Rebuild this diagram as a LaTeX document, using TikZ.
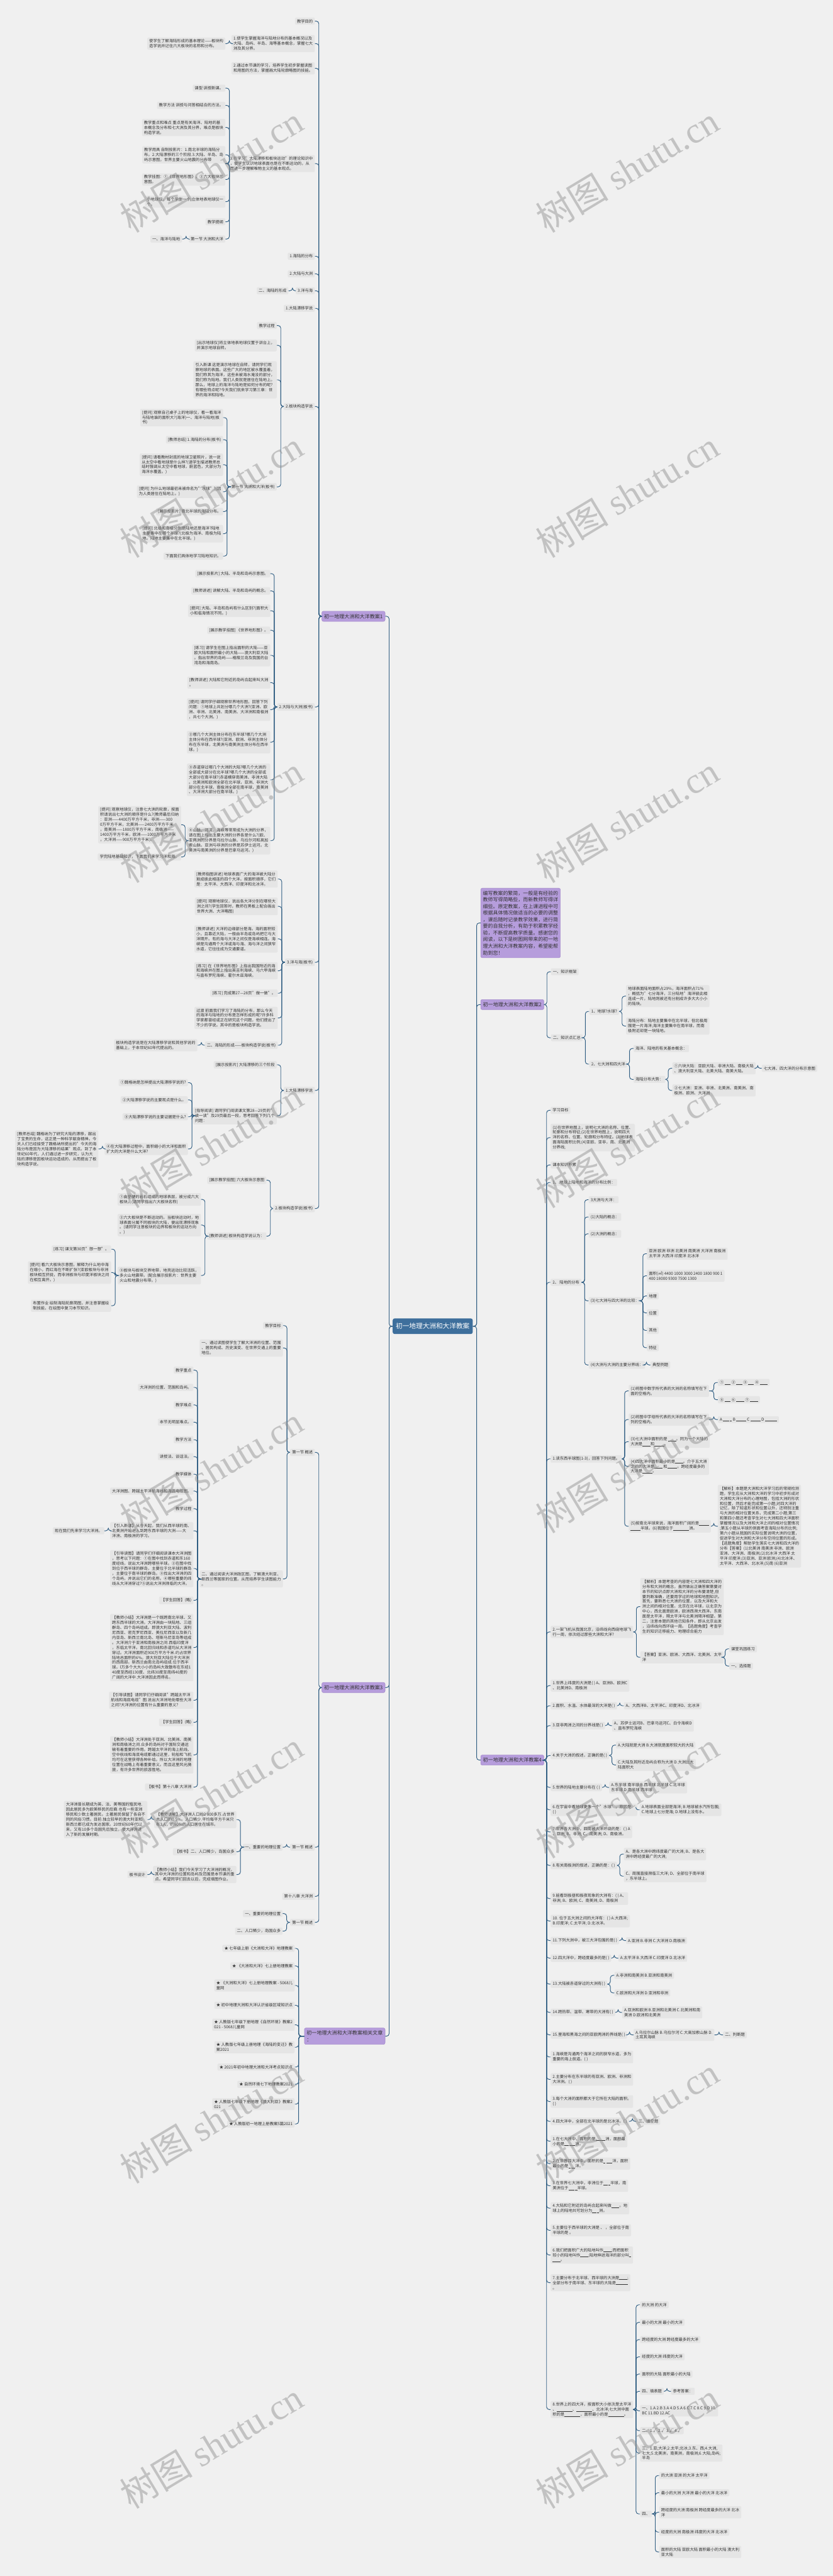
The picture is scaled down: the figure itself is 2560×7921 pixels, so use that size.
\documentclass[tikz,border=0pt]{standalone}
\usepackage{fontspec}
\setmainfont{Noto Sans CJK SC}
\newfontfamily\wmserif{Liberation Serif}
\definecolor{bg}{HTML}{F0F0F0}
\definecolor{boxc}{HTML}{E5E5E5}
\definecolor{txtc}{HTML}{333333}
\definecolor{conc}{HTML}{2F5D82}
\definecolor{purp}{HTML}{B69DDC}
\definecolor{purpd}{HTML}{A58BCB}
\definecolor{cent}{HTML}{3E6F9C}
\newcommand\mfs{\fontsize{6.1pt}{7.7pt}\selectfont}
\newcommand\mfp{\fontsize{7.8pt}{10.2pt}\selectfont}
\newcommand\blk[1]{\rule[-0.6pt]{#1em}{0.35pt}}
\newcommand\conL[2]{\foreach \x in {#2}{\draw[cn] (#1.west) -| ([xshift=6pt]\x.east) -- (\x.east);}}
\newcommand\conR[2]{\foreach \x in {#2}{\draw[cn] (#1.east) -| ([xshift=-6pt]\x.west) -- (\x.west);}}
\tikzset{
 bx/.style={fill=boxc, rounded corners=2pt, inner xsep=3pt, inner ysep=2.6pt, align=left, font=\mfs, text=txtc},
 L/.style={bx, anchor=east},
 R/.style={bx, anchor=west},
 pu/.style={fill=purp, draw=purpd, line width=0.5pt, rounded corners=2.5pt, inner xsep=3.5pt, inner ysep=4.2pt, align=left, font=\mfp, text=txtc},
 cn/.style={draw=conc, line width=0.9pt, rounded corners=4pt},
 wm/.style={rotate=31, text=black!45, opacity=0.45, font=\fontsize{56pt}{56pt}\selectfont},
}
\begin{document}
\begin{tikzpicture}[x=0.5pt,y=-0.5pt]
\useasboundingbox (0,0) rectangle (2560,7921);
\fill[bg] (0,0) rectangle (2560,7921);
% center
\node[fill=cent, rounded corners=3pt, minimum width=123pt, minimum height=24pt, text=white, font=\fontsize{10.3pt}{12pt}\selectfont] (C) at (1330,4078) {初一地理大洲和大洋教案};
% ===== left purple 1
\node[pu, anchor=east] (L1) at (1184,1895) {初一地理大洲和大洋教案1};
\node[L] (a1) at (968,65) {教学目的};
\node[L] (a2) at (968,134) {1.使学生掌握海洋与陆地分布的基本概况以及\\大陆、岛屿、半岛、海等基本概念，掌握七大\\洲及其分界。};
\node[L] (a2a) at (693,134) {使学生了解海陆形成的基本理论——板块构\\造学说并记住六大板块的名称和分布。};
\node[L] (a3) at (968,210) {2.通过本节课的学习，培养学生初步掌握读图\\和用图的方法，掌握画大陆轮廓略图的技能。};
\node[L] (a4) at (968,503) {3.在学习"大陆漂移和板块运动"的理论知识中\\，使学生认识地球表面也是在不断运动的，从\\而进一步理解唯物主义的基本观点。};
\node[L] (a4a) at (693,271) {课型 讲授新课。};
\node[L] (a4b) at (693,324) {教学方法 讲授与问答相结合的方法。};
\node[L] (a4c) at (693,392) {教学重点和难点 重点是有关海洋、陆地的基\\本概念及分布和七大洲及其分界，难点是板块\\构造学说。};
\node[L] (a4d) at (693,476) {教学用具 自制投影片：1.南北半球的海陆分\\布。2.大陆漂移的三个阶段.3.大陆、半岛、岛\\屿示意图，世界主要火山地震的分布带};
\node[L] (a4e) at (693,552) {教学挂图：①《世界地形图》。②六大板块示\\意图。};
\node[L] (a4f) at (693,620) {小地球仪，每个学生一个;立体地表地球仪一\\个。};
\node[L] (a4g) at (693,682) {教学提纲};
\node[L] (a4h) at (693,735) {第一节 大洲和大洋};
\node[L] (a4h1) at (560,735) {一、海洋与陆地};
\node[L] (a5) at (968,788) {1.海陆的分布};
\node[L] (a6) at (968,842) {2.大陆与大洲};
\node[L] (a7) at (968,894) {3.洋与海};
\node[L] (a7a) at (887,894) {二、海陆的形成};
\node[L] (a8) at (968,948) {1.大陆漂移学说};
\node[L] (a9) at (968,1250) {2.板块构造学说};
\node[L] (a9a) at (851,1001) {教学过程};
\node[L] (a9b) at (851,1062) {[出示地球仪]将立体地表地球仪置于讲台上，\\并演示地球自转。};
\node[L] (a9c) at (851,1168) {引入新课 这是演示地球在自转，请同学们观\\察地球的表面。这些广大的地区被水覆盖着，\\我们称其为海洋，这些未被海水淹没的部分，\\我们称为陆地。我们人类就是居住在陆地上。\\那么，地球上的海洋与陆地是如何分布的呢?\\有哪些特点呢?今天我们就来学习第三章：世\\界的海洋和陆地。};
\node[L] (a9d) at (851,1497) {第一节 大洲和大洋(板书)};
\node[L] (a9d1) at (686,1284) {[提问] 观察自己桌子上的地球仪，看一看海洋\\与陆地谁的面积大?(海洋)一、海洋与陆地(板\\书)};
\node[L] (a9d2) at (686,1352) {[教师总结] 1.海陆的分布(板书)};
\node[L] (a9d3) at (686,1429) {[提问] 请看教材封底的地球卫星照片，说一说\\从太空中看地球是什么样?(请学生描述教师总\\结时强调从太空中看地球，蔚蓝色，大部分为\\海洋水覆盖。)};
\node[L] (a9d4) at (686,1512) {[提问] 为什么地球最初未被命名为"水球"?(因\\为人类居住在陆地上。)};
\node[L] (a9d5) at (686,1573) {[展示投影片] 南北半球的海陆分布。};
\node[L] (a9d6) at (686,1641) {[提问] 北极和南极分别是陆地还是海洋?陆地\\主要集中在哪个半球?(北极为海洋、南极为陆\\地。陆地主要集中在北半球。)};
\node[L] (a9d7) at (686,1710) {下面我们具体地学习陆地知识。};
\node[L] (a10) at (968,2174) {2.大陆与大洲(板书)};
\node[L] (a10a) at (831,1764) {[展示投影片] 大陆、半岛和岛屿示意图。};
\node[L] (a10b) at (831,1817) {[教师讲述] 讲解大陆、半岛和岛屿的概念。};
\node[L] (a10c) at (831,1878) {[提问] 大陆、半岛和岛屿有什么区别?(面积大\\小和临海情况不同。)};
\node[L] (a10d) at (831,1938) {[展示教学挂图] 《世界地形图》。};
\node[L] (a10e) at (831,2015) {[练习] 请学生在图上指出面积的大陆——亚\\欧大陆和面积最小的大陆——澳大利亚大陆\\。指出世界的岛屿——格陵兰岛及我国的台\\湾岛和海南岛。};
\node[L] (a10f) at (831,2099) {[教师讲述] 大陆和它附近的岛屿合起来叫大洲\\。};
\node[L] (a10g) at (831,2182) {[提问] 请同学仔细观察世界地形图，回答下列\\问题：①地球上共划分哪几个大洲?(亚洲、欧\\洲、非洲、北美洲、南美洲、大洋洲和南极洲\\，共七个大洲。)};
\node[L] (a10h) at (831,2282) {②哪几个大洲主体分布在东半球?哪几个大洲\\主体分布在西半球?(亚洲、欧洲、非洲主体分\\布在东半球，北美洲与南美洲主体分布在西半\\球。)};
\node[L] (a10i) at (831,2398) {③赤道穿过哪几个大洲的大陆?哪几个大洲的\\全部或大部分在北半球?哪几个大洲的全部或\\大部分在南半球?(赤道横穿南美洲、非洲大陆\\。北美洲和欧洲全部在北半球，亚洲、非洲大\\部分在北半球，南极洲全部在南半球，南美洲\\、大洋洲大部分在南半球。)};
\node[L] (a10j) at (831,2585) {④山脉、河流、海峡等常常成为大洲的分界，\\请在图上指出主要大洲的分界各是什么?(欧、\\亚两洲的分界是乌拉尔山脉、乌拉尔河和高加\\索山脉。亚洲与非洲的分界是苏伊士运河。北\\美洲与南美洲的分界是巴拿马运河。)};
\node[L] (a10j1) at (557,2536) {[提问] 观察地球仪，注意七大洲的轮廓，按面\\积请说出七大洲的顺序是什么?(教师最后归纳\\：亚洲——4400万平方千米，非洲——300\\0万平方千米，北美洲——2400万平方千米\\，南美洲——1800万平方千米，南极洲——\\1400万平方千米，欧洲——1000万平方千米\\，大洋洲——900万平方千米)。};
\node[L] (a10j2) at (557,2635) {学完陆地基础知识，下面我们来学习洋和海。};
\node[L] (a11) at (968,2959) {3.洋与海(板书)};
\node[L] (a11a) at (854,2703) {[教师指图讲述] 地球表面广大的海洋被大陆分\\割成彼此相连的四个大洋。按面积顺序，它们\\是：太平洋、大西洋、印度洋和北冰洋。};
\node[L] (a11b) at (854,2787) {[提问] 观察地球仪，说出各大洋分别在哪些大\\洲之间?(学生回答时，教师在黑板上配合画出\\世界大洲、大洋略图)};
\node[L] (a11c) at (854,2887) {[教师讲述] 大洋的边缘部分是海。海的面积较\\小，且靠近大陆，一般由半岛或岛屿把它与大\\洋隔开。有的海与大洋之间仅是海峡相连。海\\峡是沟通两个大洋或海与海、海与洋之间狭窄\\水道，它往往成为交通要道。};
\node[L] (a11d) at (854,2985) {[练习] 在《世界地形图》上指出我国附近的海\\和海峡并在图上指出英吉利海峡、马六甲海峡\\与直布罗陀海峡、霍尔木兹海峡。};
\node[L] (a11e) at (854,3054) {[练习] 完成第27—28页"做一做"。};
\node[L] (a11f) at (854,3130) {过渡 前面我们学习了海陆的分布，那么今天\\的海洋与陆地的分布是怎样形成的呢?许多科\\学家都曾经或正在研究这个问题，他们提出了\\不少的学说。其中的是板块构造学说。};
\node[L] (a11g) at (854,3214) {二、海陆的形成——板块构造学说(板书)};
\node[L] (a11g1) at (607,3214) {板块构造学说是在大陆漂移学说和其他学说的\\基础上，于本世纪60年代提出的。};
\node[L] (a12) at (968,3353) {1.大陆漂移学说};
\node[L] (a12a) at (851,3274) {[展示投影片] 大陆漂移的三个阶段};
\node[L] (a12b) at (851,3431) {[指导阅读] 请同学们阅读课文第28—29页的"\\读一读"及29页最后一段，思考回答下列几个\\问题：};
\node[L] (a12b1) at (578,3329) {①魏格纳是怎样提出大陆漂移学说的?};
\node[L] (a12b2) at (578,3382) {②大陆漂移学说的主要观点是什么。};
\node[L] (a12b3) at (578,3434) {③大陆漂移学说的主要证据是什么?};
\node[L] (a12b4) at (578,3533) {④在大陆漂移过程中，面积缩小的大洋和面积\\扩大的大洋是什么大洋?};
\node[L] (a12b4a) at (303,3533) {[教师总结] 魏格纳为了研究大陆的漂移，献出\\了宝贵的生命，这正是一种科学献身精神。今\\天人们已经接受了魏格纳所提出的"今天的海\\陆分布是因为大陆漂移的结果"观点。到了本\\世纪60年代，人们通过进一步研究，认为大\\陆的漂移是因板块运动造成的，从而提出了板\\块构造学说。};
\node[L] (a13) at (968,3716) {2.板块构造学说(板书)};
\node[L] (a13a) at (819,3629) {[展示教学挂图] 六大板块示意图};
\node[L] (a13b) at (819,3801) {[教师讲述] 板块构造学说认为：};
\node[L] (a13b1) at (618,3688) {①由坚硬的岩石组成的地球表层，被分成六大\\板块。(请同学指出六大板块名称)};
\node[L] (a13b2) at (618,3767) {②六大板块是不断运动的。当板块运动时，地\\球表面分属不同板块的大陆，便出现漂移现象\\。(请同学注意板块的边界和板块的运动方向\\。)};
\node[L] (a13b3) at (618,3922) {③板块与板块交界地带，地壳运动比较活跃，\\多火山地震带。(配合展示投影片：世界主要\\火山和地震分布带。)};
\node[L] (a13c1) at (342,3841) {[练习] 课文第30页"想一想"。};
\node[L] (a13c2) at (342,3913) {[提问] 看六大板块示意图，解释为什么地中海\\在缩小，而红海在不断扩张?(亚欧板块与非洲\\板块相互挤拢，而非洲板块与印度洋板块之间\\在相互离开。)};
\node[L] (a13c3) at (342,4015) {布置作业 绘制海陆轮廓简图，并注意掌握绘\\制技能，在绘图中复习本节知识。};
\conL{L1}{a1,a2,a3,a4,a5,a6,a7,a8,a9,a10,a11,a12,a13}
\conL{a2}{a2a}
\conL{a4}{a4a,a4b,a4c,a4d,a4e,a4f,a4g,a4h}
\conL{a4h}{a4h1}
\conL{a7}{a7a}
\conL{a9}{a9a,a9b,a9c,a9d}
\conL{a9d}{a9d1,a9d2,a9d3,a9d4,a9d5,a9d6,a9d7}
\conL{a10}{a10a,a10b,a10c,a10d,a10e,a10f,a10g,a10h,a10i,a10j}
\conL{a10j}{a10j1,a10j2}
\conL{a11}{a11a,a11b,a11c,a11d,a11e,a11f,a11g}
\conL{a11g}{a11g1}
\conL{a12}{a12a,a12b}
\conL{a12b}{a12b1,a12b2,a12b3,a12b4}
\conL{a12b4}{a12b4a}
\conL{a13}{a13a,a13b}
\conL{a13b}{a13b1,a13b2,a13b3}
\conL{a13b3}{a13c1,a13c2,a13c3}
% ===== left purple 3
\node[pu, anchor=east] (L3) at (1184,5189) {初一地理大洲和大洋教案3};
\node[L] (c1) at (968,4466) {第一节 概述};
\node[L] (c1a) at (870,4076) {教学目标};
\node[L] (c1b) at (870,4145) {一、通过读图使学生了解大洋洲的位置、范围\\、居民构成、历史演变、在世界交通上的重要\\地位。};
\node[L] (c1c) at (870,4855) {二、通过阅读大洋洲政区图，了解澳大利亚、\\新西兰等国家的位置。从而培养学生读图能力\\。};
\node[L] (d1) at (595,4213) {教学重点};
\node[L] (d2) at (595,4266) {大洋洲的位置、范围和岛屿。};
\node[L] (d3) at (595,4320) {教学难点};
\node[L] (d4) at (595,4373) {本节无明显难点。};
\node[L] (d5) at (595,4427) {教学方法};
\node[L] (d6) at (595,4479) {讲授法、谈话法。};
\node[L] (d7) at (595,4533) {教学媒体};
\node[L] (d8) at (595,4585) {大洋洲图、跨越太平洋航海线和海底电缆图。};
\node[L] (d9) at (595,4639) {教学过程};
\node[L] (d10) at (595,4707) {【引入新课】从今天起，我们从西半球的南、\\北美洲开始进入到跨东西半球的大洲——大\\洋洲、南极洲的学习。};
\node[L] (d10a) at (321,4707) {现在我们先来学习大洋洲。};
\node[L] (d11) at (595,4823) {【引导读图】请同学们仔细阅读课本大洋洲图\\，思考以下问题：①在图中找到赤道和东160\\度经线，说出大洋洲跨哪些半球。②在图中找\\到位于西半球的群岛，主要位于北半球的群岛\\，主要位于南半球的群岛。③找出大洋洲的四\\个岛屿，并说出它们的名称。④哪些重要的纬\\线从大洋洲穿过?⑤说出大洋洲濒临的大洋。};
\node[L] (d12) at (595,4921) {【学生回答】(略)};
\node[L] (d13) at (595,5066) {【教师小结】大洋洲是一个既跨南北半球、又\\跨东西半球的大洲。大洋洲由一块陆地、三组\\群岛、四个岛屿组成。即澳大利亚大陆、波利\\尼西亚、密克罗尼西亚、美拉尼西亚以及新几\\内亚岛、新西兰南北岛、塔斯马尼亚岛等组成\\。大洋洲介于亚洲和南极洲之间.西临印度洋\\，东临太平洋。南北回归线和赤道均从大洋洲\\穿过。大洋洲面积近900万平方千米.约占世界\\陆地总面积的6\%。澳大利亚大陆位于大洋洲\\的西南部。新西兰由南北岛屿组成.位于西半\\球。l万多个大大小小的岛屿大致散布在东经1\\40度至西经130度、北纬30度至南纬40度的\\广阔的大洋中.大洋洲因此而得名。};
\node[L] (d14) at (595,5228) {【引导读图】请同学们仔细阅读"跨越太平洋\\航线和海底电缆"图.说出大洋洲地处哪些大洋\\之间?大洋洲的位置有什么重要的意义?};
\node[L] (d15) at (595,5296) {【学生回答】(略)};
\node[L] (d16) at (595,5396) {【教师小结】大洋洲处于亚洲、北美洲、南美\\洲和南极洲之间.众多的岛屿对于国际交通运\\输有着重要的作用。跨越太平洋的海上航线、\\空中航线和海底电缆都通过这里，轮船和飞机\\均可在这里获得各种补给。所以大洋洲的地理\\位置在战略上有着重要意义。而且这里风光旖\\旎，有许多世界的旅游胜地。};
\node[L] (d17) at (595,5495) {【板书】第十八章 大洋洲};
\node[L] (c2) at (968,5680) {第一节 概述};
\node[L] (c2a) at (869,5680) {一、重要的地理位置};
\node[L] (e1) at (727,5595) {【教师讲解】大洋洲人口约2 800多万.占世界\\总人口的0.5\%。人口稀少.平均每平方千米只\\有3人，约80\%的人口居住在城市。};
\node[L] (e1a) at (453,5595) {大洋洲曾长期成为英、法、美等国的殖民地.\\因此居民多为欧美移民的后裔.也有一些亚洲\\移民和少数土著居民。土著居民保留了各自不\\同的风俗习惯。目前.独立较早的澳大利亚和\\新西兰都已成为发达国家。20世纪60年代以\\来，又有10多个岛国先后独立，使大洋洲进\\入了新的发展时期。};
\node[L] (e2) at (727,5694) {【板书】二、人口稀少，岛国众多};
\node[L] (e3) at (727,5764) {【教师小结】我们今天学习了大洋洲的概况，\\其中大洋洲的位置和岛屿及范围是本节课的重\\点。希望同学们回去以后，完成填图作业。};
\node[L] (e3a) at (453,5764) {板书设计};
\node[L] (c3) at (968,5831) {第十八章 大洋洲};
\node[L] (c4) at (968,5911) {第一节 概述};
\node[L] (c4a) at (869,5884) {一、重要的地理位置};
\node[L] (c4b) at (869,5938) {二、人口稀少，岛国众多};
\conL{L3}{c1,c2,c3,c4}
\conL{c1}{c1a,c1b,c1c}
\conL{c1c}{d1,d2,d3,d4,d5,d6,d7,d8,d9,d10,d11,d12,d13,d14,d15,d16,d17}
\conL{d10}{d10a}
\conL{c2}{c2a}
\conL{c2a}{e1,e2,e3}
\conL{e1}{e1a}
\conL{e3}{e3a}
\conL{c4}{c4a,c4b}
% ===== related articles
\node[pu, anchor=east] (L4) at (1184,6261) {初一地理大洲和大洋教案相关文章\\：};
\node[L] (r1) at (906,5991) {★ 七年级上册《大洲和大洋》地理教案};
\node[L] (r2) at (906,6045) {★ 《大洲和大洋》七上册地理教案};
\node[L] (r3) at (906,6105) {★ 《大洲和大洋》七上册地理教案 - 5068儿\\童网};
\node[L] (r4) at (906,6166) {★ 初中地理大洲和大洋认识省级区域知识点};
\node[L] (r5) at (906,6226) {★ 人教版七年级下册地理《自然环境》教案2\\021 - 5068儿童网};
\node[L] (r6) at (906,6295) {★ 人教版七年级上册地理《海陆的变迁》教\\案2021};
\node[L] (r7) at (906,6356) {★ 2021年初中地理大洲和大洋考点知识点};
\node[L] (r8) at (906,6409) {★ 自然环境七下地理教案2021};
\node[L] (r9) at (906,6470) {★ 人教版七年级下册地理《澳大利亚》教案2\\021};
\node[L] (r10) at (906,6531) {★ 人教版初一地理上册教案5篇2021};
\conL{L4}{r1,r2,r3,r4,r5,r6,r7,r8,r9,r10}
\conL{C}{L1,L3,L4}
% ===== right side
\node[pu, anchor=west, inner ysep=4pt, font=\fontsize{7.7pt}{10.2pt}\selectfont] (D) at (1477,2838) {编写教案的繁简，一般是有经验的\\教师写得简略些，而新教师写得详\\细些。原定教案，在上课进程中可\\根据具体情况做适当的必要的调整\\，课后随时记录教学效果，进行简\\要的自我分析，有助于积累教学经\\验，不断提高教学质量。感谢您的\\阅读，以下是树图网带来的初一地\\理大洲和大洋教案内容，希望能帮\\助到您！};
\node[pu, anchor=west] (R2) at (1477,3089) {初一地理大洲和大洋教案2};
\node[R] (f1) at (1693,2988) {一、知识框架};
\node[R] (f2) at (1693,3191) {二、知识点汇总};
\node[R] (f2a) at (1811,3110) {1、地球?水球?};
\node[R] (f2a1) at (1924,3063) {地球表面陆地面积占29\%，海洋面积占71\%\\，概括为"七分海洋，三分陆地"海洋彼此相\\连成一片，陆地则被还有分割成许多大大小小\\的陆块。};
\node[R] (f2a2) at (1924,3155) {海陆分布：陆地主要集中在北半球，但北极周\\围是一片海洋;海洋主要集中在南半球，而南\\极附近却是一块陆地。};
\node[R] (f2b) at (1811,3272) {2、七大洲和四大洋};
\node[R] (f2b1) at (1947,3224) {海洋、陆地的有关基本概念：};
\node[R] (f2b2) at (1947,3319) {海陆分布大势：};
\node[R] (g1) at (2066,3285) {①六块大陆：亚欧大陆、非洲大陆、南极大陆\\、澳大利亚大陆、北美大陆、南美大陆。};
\node[R] (g1a) at (2341,3285) {七大洲、四大洋的分布示意图};
\node[R] (g2) at (2066,3353) {②七大洲：亚洲、非洲、北美洲、南美洲、南\\极洲、欧洲、大洋洲};
\conR{R2}{f1,f2}
\conR{f2}{f2a,f2b}
\conR{f2a}{f2a1,f2a2}
\conR{f2b}{f2b1,f2b2}
\conR{f2b2}{g1,g2}
\conR{g1}{g1a}
\node[pu, anchor=west] (R4) at (1477,5412) {初一地理大洲和大洋教案4};
\node[R] (h1) at (1692,3414) {学习目标};
\node[R] (h2) at (1692,3498) {(1)在世界地图上，说明七大洲的名称、位置、\\轮廓和分布特征;(2)在世界地图上，说明四大\\洋的名称、位置、轮廓和分布特征。(3)地球表\\面海陆面积比例;(4)亚欧、亚非，南、北美洲\\分界线;};
\node[R] (h3) at (1692,3582) {课本知识积累};
\node[R] (h4) at (1692,3636) {1、 地球上陆地和海洋的分布比例：};
\node[R] (h5) at (1692,3943) {2、 陆地的分布};
\node[R] (i1) at (1809,3689) {3大洲与大洋：};
\node[R] (i2) at (1809,3742) {(1)大陆的概念：};
\node[R] (i3) at (1809,3794) {(2)大洲的概念：};
\node[R] (i4) at (1809,4000) {(3)七大洲与四大洋的比较：};
\node[R] (i4a) at (1988,3855) {亚洲 欧洲 非洲 北美洲 南美洲 大洋洲 南极洲\\太平洋 大西洋 印度洋 北冰洋};
\node[R] (i4b) at (1988,3923) {面积(㎡) 4400 1000 3000 2400 1800 900 1\\400 18000 9300 7500 1300};
\node[R] (i4c) at (1988,3985) {地理};
\node[R] (i4d) at (1988,4037) {位置};
\node[R] (i4e) at (1988,4091) {其他};
\node[R] (i4f) at (1988,4144) {特征};
\node[R] (i5) at (1809,4197) {(4)大洲与大洲的主要分界线：};
\node[R] (i5a) at (1999,4197) {典型例题};
\node[R] (h6) at (1692,4486) {1.读东西半球图(1-3)，回答下列问题。};
\node[R] (j1) at (1932,4277) {(1)将图中数字所代表的大洲的名称填写在下\\面的空格内。};
\node[R] (j1a) at (2206,4251) {① \blk{1.5} ② \blk{1.5} ③ \blk{1.5} ④ \blk{2}};
\node[R] (j1b) at (2206,4304) {⑤ \blk{1.5} ⑥ \blk{2} ⑦ \blk{2}};
\node[R] (j2) at (1932,4365) {(2)将图中字母所代表的大洋的名称填写在下\\列的空格内。};
\node[R] (j2a) at (2206,4365) {A \blk{1.5} \blk{0.5} B \blk{2.5} C \blk{2.5} D \blk{3}};
\node[R] (j3) at (1932,4433) {(3)七大洲中面积的是 \blk{2}。同为一个大陆的\\大洲是\blk{2}和\blk{2.5}。};
\node[R] (j4) at (1932,4509) {(4)四大洋中面积最小的是\blk{2}。介于五大洲\\之间的大洋是\blk{2} 和\blk{2.5}。跨经度最多的\\大洋是\blk{2.5}。};
\node[R] (j5) at (1932,4693) {(5)按南北半球来说，海洋面积广阔的是\blk{2.5}\\\blk{2.5}半球。(6)我国位于\blk{4}洲。};
\node[R] (j5a) at (2206,4693) {【解析】本题是大洲和大洋学习后的常规检测\\题，学生应从大洲和大洋的学习中初步形成对\\大洲和大洋分布的心理地图，包括大洲的形状\\和位置，然后才能完成第一小题;对四大洋的\\记忆，除了知道形状和位置以外，还特别注重\\与大洲的相对位置关系，完成第二小题;第三\\和第四小题还考查学生对七大洲和四大洋面积\\掌握情况以及大洲和大洋之间的相对位置情况\\;第五小题从半球的侧面考查海陆分布的比例;\\第六小题从我国的实际位置说明大洲的位置，\\促进学生对大洲和大洋分布空间位置的形成。\\【选题角度】帮助学生落实七大洲和四大洋的\\分布【答案】(1)北美洲 南美洲 非洲、欧洲\\亚洲、大洋洲、南极洲;(2)北冰洋 大西洋 太\\平洋 印度洋;(3)亚洲、亚洲 欧洲;(4)北冰洋、\\太平洋、大西洋、北冰洋;(5)南 (6)亚洲};
\node[R] (h7) at (1692,5018) {2.一架飞机从我国北京，沿纬线向西绕地球飞\\行一周，依次经过那些大洲和大洋?};
\node[R] (k1) at (1968,4940) {【解析】本题考查的内容是七大洲和四大洋的\\分布和大洲的概念，虽然做出正确答案需要对\\本节的知识点即大洲和大洋的分布要清楚,但\\要判断准确，还要用学过的地球和地图知识。\\ 首先，要熟悉七大洲的位置，以及大洋和大\\洲之间的相对位置。北京在北半球，以北京为\\中心，西北面是欧洲，欧洲西濒大西洋。东南\\面是太平洋，隔太平洋与北美洲隔洋相望。第\\二，注意本题的其他已知条件，即从北京出发\\，沿纬线向西环绕一周。【选题角度】考查学\\生的知识迁移能力、地理综合能力};
\node[R] (k2) at (1968,5096) {【答案】亚洲、欧洲、大西洋、北美洲、太平\\洋};
\node[R] (k2a) at (2241,5070) {课堂巩固练习};
\node[R] (k2b) at (2241,5123) {一、选择题};
\node[R] (h8) at (1692,5183) {1.世界上纬度的大洲是( ) A、亚洲B、欧洲C\\、北美洲D、南极洲};
\node[R] (h9) at (1692,5245) {2.面积、水温、水体最深的大洋是( )};
\node[R] (h9a) at (1917,5245) {A、大西洋B、太平洋C、印度洋D、北冰洋};
\node[R] (h10) at (1692,5306) {3.亚非两洲之间的分界线是( )};
\node[R] (h10a) at (1881,5306) {A、苏伊士运河B、巴拿马运河C、白令海峡D\\、直布罗陀海峡};
\node[R] (h11) at (1692,5398) {4.关于大洲的叙述，正确的是( )};
\node[R] (h11a) at (1893,5366) {A.大陆就是大洲 B.大洲就是面积较大的大陆};
\node[R] (h11b) at (1893,5427) {C.大陆及其附近岛屿合称为大洲 D.大洲比大\\陆面积大};
\node[R] (h12) at (1692,5496) {5.世界的陆地主要分布在 ( )};
\node[R] (h12a) at (1872,5496) {A.东半球 南半球 B.西半球 北半球 C.北半球\\东半球 D.南半球 西半球};
\node[R] (h13) at (1692,5565) {6.在宇宙中看地球更像一个"水球"，原因是：\\( )};
\node[R] (h13a) at (1966,5565) {A.地球表面全部是海洋; B.地球被水汽所包围;\\C.地球上七分是海; D.地球上没有水。};
\node[R] (h14) at (1692,5633) {7.世界各大洲中，四周被大洋环绕的是：( ) A\\、亚洲; B、非洲; C、南美洲; D、南极洲。};
\node[R] (h15) at (1692,5736) {8.有关南极洲的叙述，正确的是：( )};
\node[R] (h15a) at (1917,5701) {A、是各大洲中跨纬度最广的大洲; B、是各大\\洲中跨经度最广的大洲;};
\node[R] (h15b) at (1917,5769) {C、周围直接濒临三大洋; D、全部位于南半球\\，东半球上。};
\node[R] (h16) at (1692,5838) {9.能看到极昼和极夜现象的大洲有：( ) A、\\非洲; B、欧洲; C、南美洲; D、南极洲};
\node[R] (h17) at (1692,5907) {10. 位于五大洲之间的大洋有：( ) A.大西洋;\\B.印度洋; C.太平洋; D.北冰洋。};
\node[R] (h18) at (1692,5967) {11.下列大洲中，被三大洋包围的是( )};
\node[R] (h18a) at (1924,5967) {A.亚洲 B.非洲 C.大洋洲 D.南极洲};
\node[R] (h19) at (1692,6021) {12.四大洋中，跨经度最多的是( )};
\node[R] (h19a) at (1900,6021) {A.太平洋 B.大西洋 C.印度洋 D.北冰洋};
\node[R] (h20) at (1692,6101) {13.大陆被赤道穿过的大洲有( )};
\node[R] (h20a) at (1888,6074) {A.非洲和南美洲 B.亚洲和南美洲};
\node[R] (h20b) at (1888,6128) {C.欧洲和大洋洲 D.亚洲和非洲};
\node[R] (h21) at (1692,6188) {14.跨热带、温带、寒带的大洲有( )};
\node[R] (h21a) at (1912,6188) {A.亚洲和欧洲 B.亚洲和北美洲 C.北美洲和南\\美洲 D.欧洲和北美洲};
\node[R] (h22) at (1692,6257) {15.里海和黑海之间的亚欧两洲的界线是( )};
\node[R] (h22a) at (1947,6257) {A.乌拉尔山脉 B.乌拉尔河 C.大高加索山脉 D.\\土耳其海峡};
\node[R] (h22b) at (2222,6257) {二、判断题};
\node[R] (h23) at (1692,6325) {1.海峡是沟通两个海洋之间的狭窄水道，多为\\重要的海上航道。( )};
\node[R] (h24) at (1692,6394) {2.主要分布在东半球的有亚洲、欧洲、非洲和\\大洋洲。( )};
\node[R] (h25) at (1692,6462) {3.每个大洲的面积都大于它所在大陆的面积。\\( )};
\node[R] (h26) at (1692,6523) {4.四大洋中，全部在北半球的是北冰洋。( )};
\node[R] (h26a) at (1956,6523) {三、填空题};
\node[R] (h27) at (1692,6584) {1.在七大洲中，面积的是\blk{2.5}洲，面积最\\小的是\blk{1} \blk{1.5}洲。};
\node[R] (h28) at (1692,6653) {2.在世界四大洋中，面积的是\blk{0.5} \blk{1.5}洋，面积\\最小的是\blk{0.5} \blk{1}洋。};
\node[R] (h29) at (1692,6721) {3.在世界七大洲中，非洲位于\blk{1} \blk{0.5}半球，南\\美洲位于\blk{1.5} \blk{0.5}半球。};
\node[R] (h30) at (1692,6790) {4.大陆和它附近的岛屿合起来叫做\blk{2}。地\\球上的陆地共可划分为\blk{1} \blk{0.5}洲。};
\node[R] (h31) at (1692,6858) {5.主要位于西半球的大洲是 、 ，全部位于南\\半球的是 。};
\node[R] (h32) at (1692,6934) {6.我们把面积广大的陆地叫作\blk{2};而把面积\\较小的陆地叫作\blk{2};陆地伸进海洋的部分叫\blk{0.5}\\\blk{2}。};
\node[R] (h33) at (1692,7019) {7.主要分布于北半球、西半球的大洲是\blk{2};\\全部分布于南半球、东半球的大陆是\blk{3}\\。};
\node[R] (h34) at (1692,7409) {8.世界上的四大洋，按面积大小依次是太平洋\\、\blk{4}、\blk{4}、北冰洋;七大洲中面\\积的是\blk{4}，面积最小的是\blk{4}。};
\node[R] (m1) at (1967,7087) {的大洲 的大洋};
\node[R] (m2) at (1967,7141) {最小的大洲 最小的大洋};
\node[R] (m3) at (1967,7194) {跨经度的大洲 跨经度最多的大洋};
\node[R] (m4) at (1967,7247) {经度的大洲 纬度的大洋};
\node[R] (m5) at (1967,7300) {面积的大陆 面积最小的大陆};
\node[R] (m6) at (1967,7353) {四、填表题};
\node[R] (m6a) at (2062,7353) {参考答案：};
\node[R] (m7) at (1967,7413) {一、1.A 2.B 3.A 4.D 5.A 6.C 7.C 8.C 9.D 10.\\BC 11.BD 12.AC};
\node[R] (m8) at (1967,7474) {二、1.√ 2.√ 3.√ 4.√};
\node[R] (m9) at (1967,7543) {三、1.亚;大洋;2.太平;北冰;3.东、西;4.大洲,\\七大;5.北美洲，南美洲，南极洲;6.大陆;岛屿;\\半岛};
\node[R] (m10) at (1967,7730) {四、};
\node[R] (n1) at (2026,7612) {的大洲 亚洲 的大洋 太平洋};
\node[R] (n2) at (2026,7665) {最小的大洲 大洋洲 最小的大洋 北冰洋};
\node[R] (n3) at (2026,7725) {跨经度的大洲 南极洲 跨经度最多的大洋 北冰\\洋};
\node[R] (n4) at (2026,7786) {经度的大洲 南极洲 纬度的大洋 北冰洋};
\node[R] (n5) at (2026,7847) {面积的大陆 亚欧大陆 面积最小的大陆 澳大利\\亚大陆};
\conR{R4}{h1,h2,h3,h4,h5,h6,h7,h8,h9,h10,h11,h12,h13,h14,h15,h16,h17,h18,h19,h20,h21,h22,h23,h24,h25,h26,h27,h28,h29,h30,h31,h32,h33,h34}
\conR{h5}{i1,i2,i3,i4,i5}
\conR{i4}{i4a,i4b,i4c,i4d,i4e,i4f}
\conR{i5}{i5a}
\conR{h6}{j1,j2,j3,j4,j5}
\conR{j1}{j1a,j1b}
\conR{j2}{j2a}
\conR{j5}{j5a}
\conR{h7}{k1,k2}
\conR{k2}{k2a,k2b}
\conR{h9}{h9a}
\conR{h10}{h10a}
\conR{h11}{h11a,h11b}
\conR{h12}{h12a}
\conR{h13}{h13a}
\conR{h15}{h15a,h15b}
\conR{h18}{h18a}
\conR{h19}{h19a}
\conR{h20}{h20a,h20b}
\conR{h21}{h21a}
\conR{h22}{h22a}
\conR{h22a}{h22b}
\conR{h26}{h26a}
\conR{h34}{m1,m2,m3,m4,m5,m6,m7,m8,m9,m10}
\conR{m6}{m6a}
\conR{m10}{n1,n2,n3,n4,n5}
\conR{C}{D,R2,R4}
% watermarks
\foreach \yy in {520,1520,2520,3520,4520,5520,6520,7520}{
 \node[wm] at (650,\yy) {树图 {\wmserif shutu.cn}};
 \node[wm] at (1928,\yy) {树图 {\wmserif shutu.cn}};
}
\end{tikzpicture}
\end{document}
